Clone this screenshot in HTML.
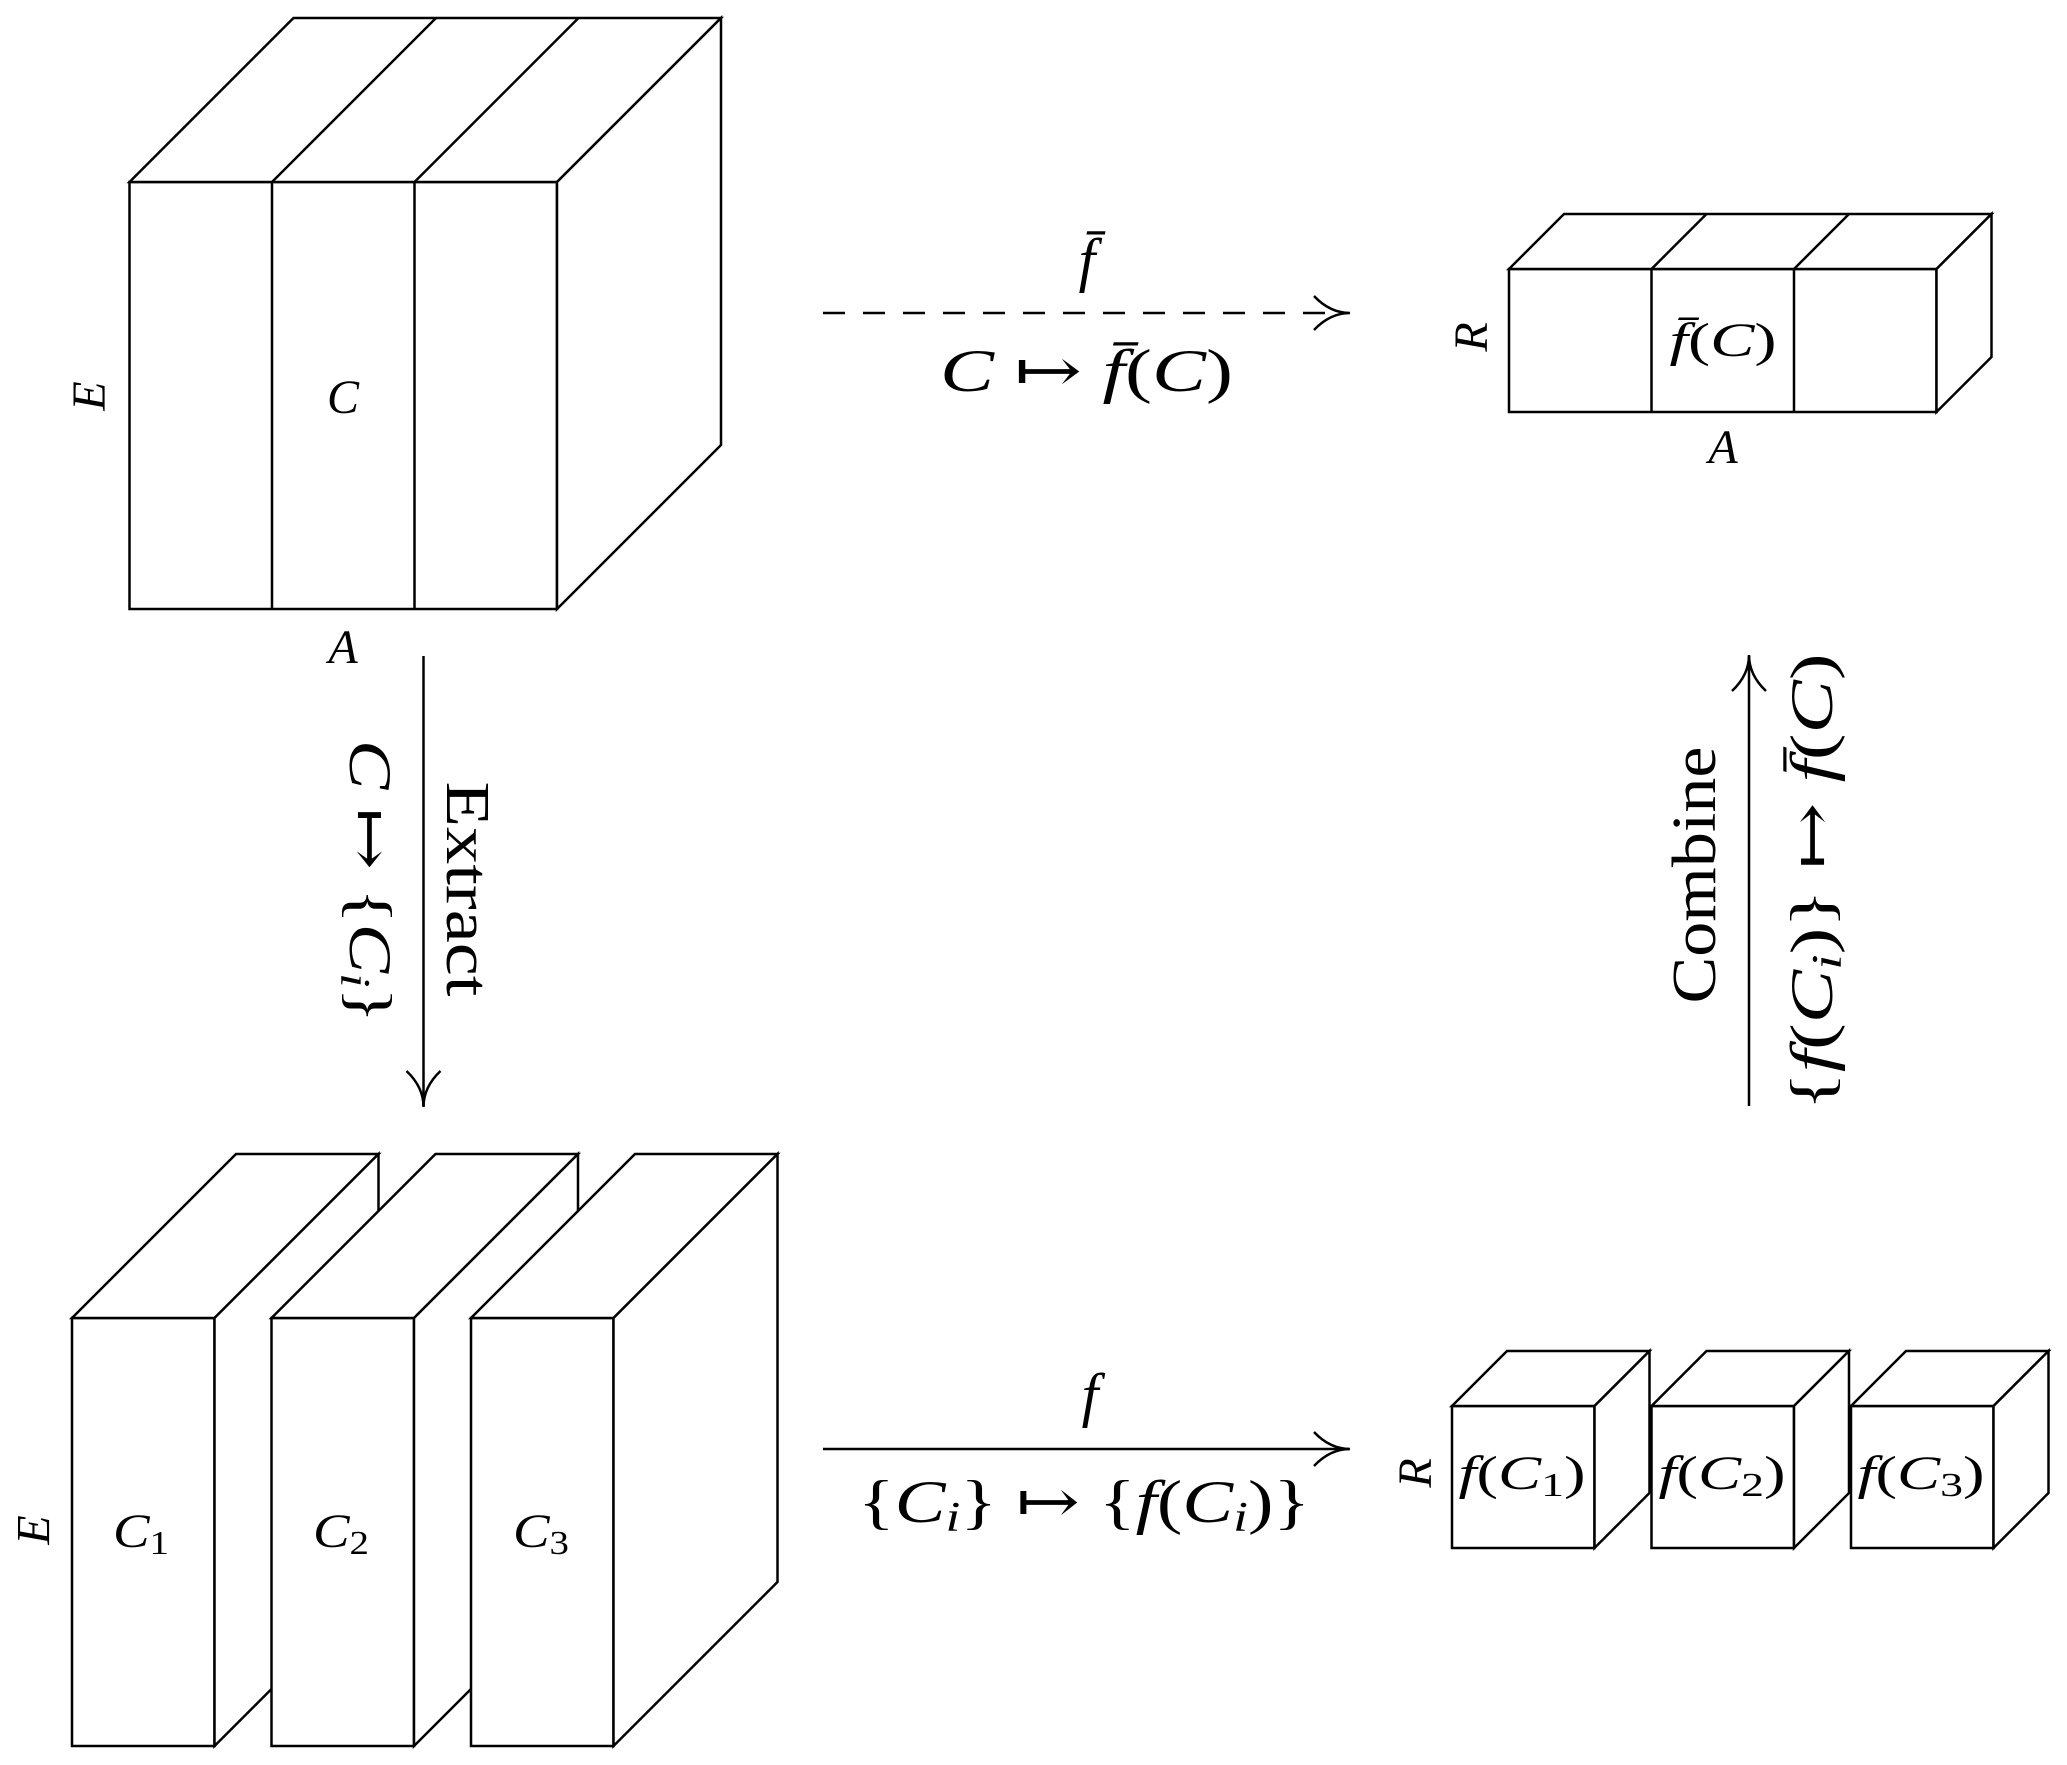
<!DOCTYPE html>
<html>
<head>
<meta charset="utf-8">
<style>
  html, body { margin: 0; padding: 0; background: #ffffff; }
  svg { display: block; }
  text { font-family: "Liberation Serif", "DejaVu Serif", "DejaVu Sans", serif; fill: #000; }
  .it { font-style: italic; }
</style>
</head>
<body>
<svg width="2067" height="1765" viewBox="0 0 2067 1765" xmlns="http://www.w3.org/2000/svg">
  <rect x="0" y="0" width="2067" height="1765" fill="#ffffff"/>
  <g fill="#ffffff" stroke="#000" stroke-width="2.5" stroke-linejoin="miter">
    <!-- Top-left big cube -->
    <rect x="129.5" y="182" width="427.5" height="427"/>
    <polygon points="129.5,182 293.5,18 721,18 557,182"/>
    <polygon points="557,182 721,18 721,445 557,609"/>
    <line x1="272" y1="182" x2="272" y2="609"/>
    <line x1="414.5" y1="182" x2="414.5" y2="609"/>
    <line x1="272" y1="182" x2="436" y2="18"/>
    <line x1="414.5" y1="182" x2="578.5" y2="18"/>

    <!-- Top-right flat cube -->
    <rect x="1509" y="269" width="427.5" height="143"/>
    <polygon points="1509,269 1564,214 1991.5,214 1936.5,269"/>
    <polygon points="1936.5,269 1991.5,214 1991.5,357 1936.5,412"/>
    <line x1="1651.5" y1="269" x2="1651.5" y2="412"/>
    <line x1="1794" y1="269" x2="1794" y2="412"/>
    <line x1="1651.5" y1="269" x2="1706.5" y2="214"/>
    <line x1="1794" y1="269" x2="1849" y2="214"/>

    <!-- Bottom-left slabs -->
    <rect x="72" y="1318" width="142.5" height="428"/>
    <polygon points="72,1318 236,1154 378.5,1154 214.5,1318"/>
    <polygon points="214.5,1318 378.5,1154 378.5,1582 214.5,1746"/>

    <rect x="271.5" y="1318" width="142.5" height="428"/>
    <polygon points="271.5,1318 435.5,1154 578,1154 414,1318"/>
    <polygon points="414,1318 578,1154 578,1582 414,1746"/>

    <rect x="471" y="1318" width="142.5" height="428"/>
    <polygon points="471,1318 635,1154 777.5,1154 613.5,1318"/>
    <polygon points="613.5,1318 777.5,1154 777.5,1582 613.5,1746"/>

    <!-- Bottom-right small cubes -->
    <rect x="1452" y="1406" width="142.5" height="142"/>
    <polygon points="1452,1406 1507,1351 1649.5,1351 1594.5,1406"/>
    <polygon points="1594.5,1406 1649.5,1351 1649.5,1493 1594.5,1548"/>

    <rect x="1651.5" y="1406" width="142.5" height="142"/>
    <polygon points="1651.5,1406 1706.5,1351 1849,1351 1794,1406"/>
    <polygon points="1794,1406 1849,1351 1849,1493 1794,1548"/>

    <rect x="1851" y="1406" width="142.5" height="142"/>
    <polygon points="1851,1406 1906,1351 2048.5,1351 1993.5,1406"/>
    <polygon points="1993.5,1406 2048.5,1351 2048.5,1493 1993.5,1548"/>
  </g>

  <!-- Arrows -->
  <g fill="none" stroke="#000" stroke-width="2.5" stroke-linecap="butt">
    <!-- dashed top arrow -->
    <line x1="823" y1="313" x2="1348" y2="313" stroke-dasharray="22 18"/>
    <path d="M1314,296 Q1330,313 1350,313 M1314,330 Q1330,313 1350,313"/>
    <!-- Extract (down) -->
    <line x1="423.5" y1="656" x2="423.5" y2="1106"/>
    <path d="M406.5,1071 Q423.5,1087 423.5,1107 M440.5,1071 Q423.5,1087 423.5,1107"/>
    <!-- Combine (up) -->
    <line x1="1749" y1="1106" x2="1749" y2="656"/>
    <path d="M1732,691 Q1749,675 1749,655 M1766,691 Q1749,675 1749,655"/>
    <!-- bottom solid arrow -->
    <line x1="823" y1="1449" x2="1349" y2="1449"/>
    <path d="M1314,1432 Q1330,1449 1350,1449 M1314,1466 Q1330,1449 1350,1449"/>
  </g>

  <!-- Cube labels -->
  <g font-size="48">
    <text x="343" y="413" text-anchor="middle" class="it">C</text>
    <text x="343" y="663" text-anchor="middle" class="it">A</text>
    <text transform="translate(105,396) rotate(-90)" text-anchor="middle" class="it">E</text>

    <text x="1723" y="356" text-anchor="middle" textLength="107" lengthAdjust="spacingAndGlyphs"><tspan class="it">f̄</tspan>(<tspan class="it">C</tspan>)</text>
    <text x="1723" y="463" text-anchor="middle" class="it">A</text>
    <text transform="translate(1487,337) rotate(-90)" text-anchor="middle" class="it">R</text>

    <text x="141" y="1547" text-anchor="middle" textLength="56" lengthAdjust="spacingAndGlyphs"><tspan class="it">C</tspan><tspan font-size="34" dy="7">1</tspan></text>
    <text x="341" y="1547" text-anchor="middle" textLength="56" lengthAdjust="spacingAndGlyphs"><tspan class="it">C</tspan><tspan font-size="34" dy="7">2</tspan></text>
    <text x="541" y="1547" text-anchor="middle" textLength="56" lengthAdjust="spacingAndGlyphs"><tspan class="it">C</tspan><tspan font-size="34" dy="7">3</tspan></text>
    <text transform="translate(49.5,1530) rotate(-90)" text-anchor="middle" class="it">E</text>

    <text x="1522" y="1489" text-anchor="middle" textLength="127" lengthAdjust="spacingAndGlyphs"><tspan class="it">f</tspan>(<tspan class="it">C</tspan><tspan font-size="34" dy="7">1</tspan><tspan dy="-7">)</tspan></text>
    <text x="1722" y="1489" text-anchor="middle" textLength="127" lengthAdjust="spacingAndGlyphs"><tspan class="it">f</tspan>(<tspan class="it">C</tspan><tspan font-size="34" dy="7">2</tspan><tspan dy="-7">)</tspan></text>
    <text x="1921" y="1489" text-anchor="middle" textLength="127" lengthAdjust="spacingAndGlyphs"><tspan class="it">f</tspan>(<tspan class="it">C</tspan><tspan font-size="34" dy="7">3</tspan><tspan dy="-7">)</tspan></text>
    <text transform="translate(1431,1473) rotate(-90)" text-anchor="middle" class="it">R</text>
  </g>

  <!-- Arrow labels -->
  <g font-size="60">
    <text x="1087" y="280" text-anchor="middle" class="it">f̄</text>
    <text x="1086.5" y="391" text-anchor="middle" textLength="293" lengthAdjust="spacingAndGlyphs"><tspan class="it">C</tspan> ↦ <tspan class="it">f̄</tspan>(<tspan class="it">C</tspan>)</text>

    <text x="1090" y="1415" text-anchor="middle" class="it">f</text>
    <text x="1084" y="1522" text-anchor="middle" textLength="452" lengthAdjust="spacingAndGlyphs">{<tspan class="it">C</tspan><tspan class="it" font-size="42" dy="9">i</tspan><tspan dy="-9">}</tspan> ↦ {<tspan class="it">f</tspan>(<tspan class="it">C</tspan><tspan class="it" font-size="42" dy="9">i</tspan><tspan dy="-9">)}</tspan></text>

    <text transform="translate(447,889) rotate(90)" text-anchor="middle" font-size="62" textLength="215" lengthAdjust="spacingAndGlyphs">Extract</text>
    <text transform="translate(350,881.5) rotate(90)" text-anchor="middle" textLength="283" lengthAdjust="spacingAndGlyphs"><tspan class="it">C</tspan> ↦ {<tspan class="it">C</tspan><tspan class="it" font-size="42" dy="9">i</tspan><tspan dy="-9">}</tspan></text>

    <text transform="translate(1715,875) rotate(-90)" text-anchor="middle" font-size="62" textLength="257" lengthAdjust="spacingAndGlyphs">Combine</text>
    <text transform="translate(1832,882) rotate(-90)" text-anchor="middle" textLength="457" lengthAdjust="spacingAndGlyphs">{<tspan class="it">f</tspan>(<tspan class="it">C</tspan><tspan class="it" font-size="42" dy="9">i</tspan><tspan dy="-9">)}</tspan> ↦ <tspan class="it">f̄</tspan>(<tspan class="it">C</tspan>)</text>
  </g>
</svg>
</body>
</html>
